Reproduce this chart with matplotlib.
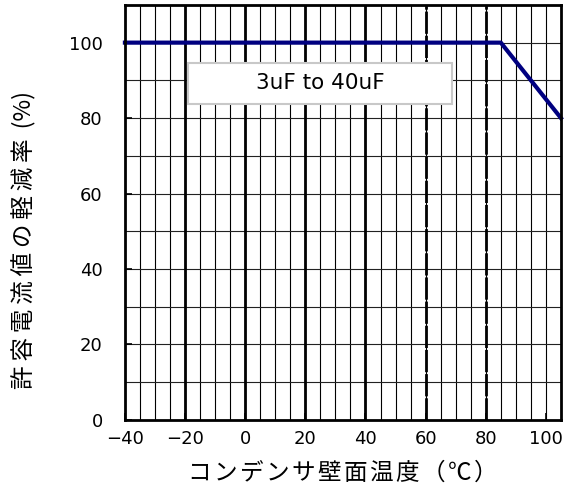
import matplotlib.pyplot as plt
from matplotlib.patches import Rectangle
import numpy as np

plt.rcParams['font.family'] = ['DejaVu Sans']
cjk = ['Noto Sans CJK JP', 'DejaVu Sans']

# derating curve
temp = [-40, 85, 105]
ratio = [100, 100, 80]

x_ticks = [-40, -20, 0, 20, 40, 60, 80, 100]
y_ticks = [0, 20, 40, 60, 80, 100]
solid_major = [-20, 0, 20, 40]
dashed_major = [60, 80]

label_text = '3uF to 40uF'
x_label = 'コンデンサ壁面温度（℃）'
y_label = '許容電流値の軽減率'
y_unit = ' (%)'

fig = plt.figure(figsize=(5.73, 4.90), dpi=100)
ax = fig.add_axes([0.218, 0.143, 0.761, 0.847])

# thin grid: every 5 deg, every 10 %
for x in np.arange(-35, 105, 5):
    ax.axvline(x, color='black', lw=0.8, zorder=1)
for y in np.arange(10, 110, 10):
    ax.axhline(y, color='#222222', lw=0.8, zorder=1)
for x in solid_major:
    ax.axvline(x, color='black', lw=2.0, zorder=1.5)
for x in dashed_major:
    ax.axvline(x, color='black', lw=2.0, ls=(0, (8, 0.7)), zorder=1.5)

ax.plot(temp, ratio, color='#000080', lw=3, zorder=3, clip_on=False)

# label box
ax.add_patch(Rectangle((-19, 83.8), 87.7, 10.8, fc='white', ec='#c8c8c8', lw=1.5, zorder=4))
ax.text(24.9, 89.2, label_text, ha='center', va='center', fontsize=15.5, zorder=5)

ax.set_xlim(-40, 105)
ax.set_ylim(0, 110)
ax.set_xticks(x_ticks)
ax.set_yticks(y_ticks)
ax.set_xticklabels([str(v).replace('-', '\u2212') for v in x_ticks])
ax.tick_params(labelsize=13, direction='in', length=5, width=1.2)
ax.tick_params(axis='x', pad=7)
ax.tick_params(axis='y', pad=16)
for s in ax.spines.values():
    s.set_linewidth(2)
    s.set_zorder(6)

ax.set_xlabel('\u200a'.join(x_label), fontsize=17, family=cjk, labelpad=10)
ax.set_ylabel('\u200a\u200a'.join(y_label) + '\u200a\u200a' + y_unit, fontsize=17, family=cjk)
ax.yaxis.set_label_coords(-0.202, 0.434)

fig.savefig('out.png', dpi=100)
